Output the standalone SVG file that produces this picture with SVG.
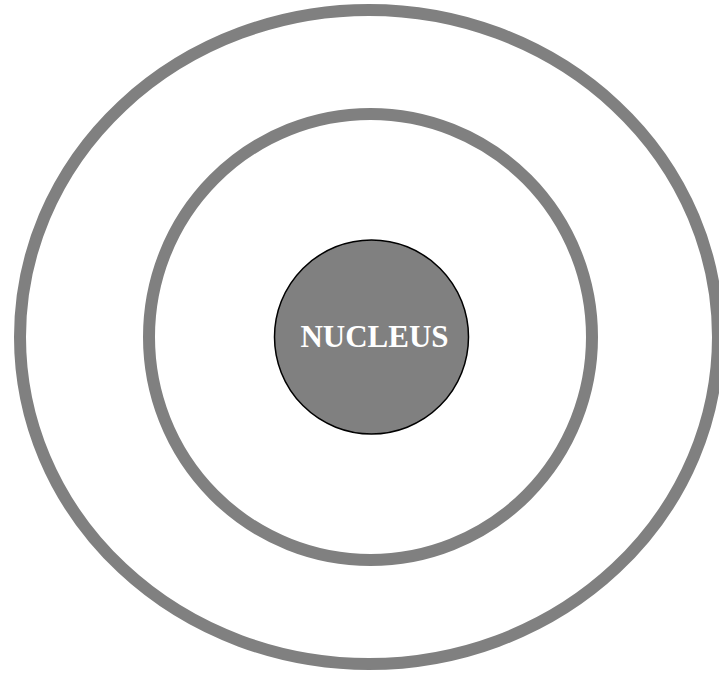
<svg xmlns="http://www.w3.org/2000/svg" width="719" height="673" viewBox="0 0 719 673">
<style>
.orbit{fill:none;stroke:#808080;stroke-width:12}
.nuc{fill:#808080;stroke:#000;stroke-width:1.5}
.lbl{font-family:"Liberation Serif","Times New Roman",serif;font-weight:bold;font-size:31px;fill:#fff;text-anchor:middle}
</style>
<rect width="719" height="673" fill="#fff"/>
<g id="outer-orbit"><ellipse class="orbit" cx="369" cy="337" rx="349" ry="327"/></g>
<g id="inner-orbit"><ellipse class="orbit" cx="370.5" cy="337" rx="221.5" ry="223"/></g>
<g id="nucleus"><circle class="nuc" cx="371.5" cy="337" r="97"/><text class="lbl" x="374.5" y="346.5">NUCLEUS</text></g>
<g id="connectors"/>
</svg>
